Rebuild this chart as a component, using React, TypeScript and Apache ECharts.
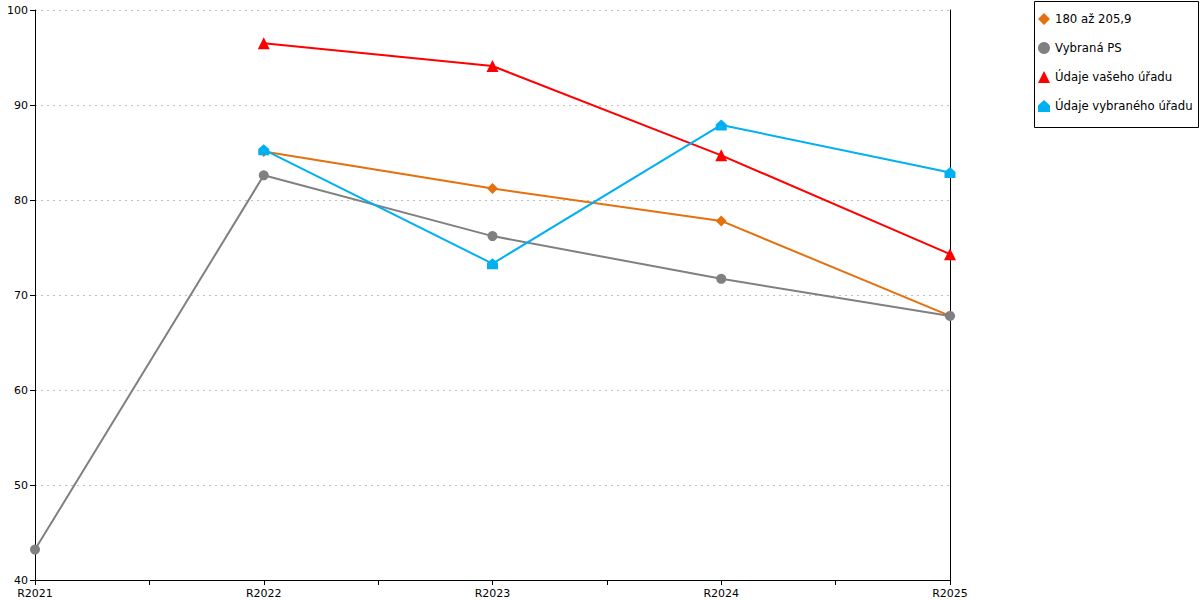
import React, { useEffect, useRef } from "react";
import * as echarts from "echarts";

const categories = ["R2021", "R2022", "R2023", "R2024", "R2025"];
const seriesNames = ["180 až 205,9", "Vybraná PS", "Údaje vašeho úřadu", "Údaje vybraného úřadu"];
const orangeValues: (number | null)[] = [null, 85.1, 81.2, 77.8, 67.8];
const grayValues: (number | null)[] = [43.2, 82.6, 76.2, 71.7, 67.8];
const redValues: (number | null)[] = [null, 96.5, 94.1, 84.7, 74.3];
const cyanValues: (number | null)[] = [null, 85.3, 73.3, 87.9, 82.9];
const yTicks = { min: 40, max: 100, interval: 10 };

const HOUSE = "path://M0,4.5 L5,0 L10,4.5 L10,10 L0,10 Z";

const toPairs = (vals: (number | null)[]) =>
  vals.map((v, i) => (v === null ? null : [i, v])).filter((p) => p !== null);

export default function App() {
  const ref = useRef<HTMLDivElement>(null);
  useEffect(() => {
    if (!ref.current) return;
    const chart = echarts.init(ref.current, undefined, { renderer: "svg" });
    const font = "DejaVu Sans";
    const mk = (name: string, vals: (number | null)[], color: string, symbol: string, size: number) => ({
      name,
      type: "line",
      data: toPairs(vals),
      symbol,
      symbolSize: size,
      lineStyle: { color, width: 2 },
      itemStyle: { color },
      z: 3,
    });
    chart.setOption({
      animation: false,
      textStyle: { fontFamily: font },
      grid: { left: 35, right: 250, top: 10, bottom: 20, containLabel: false },
      xAxis: {
        type: "value",
        min: 0,
        max: 4,
        interval: 0.5,
        axisLine: { show: true, lineStyle: { color: "#000", width: 1 } },
        axisTick: { show: true, length: 5, lineStyle: { color: "#000" } },
        splitLine: { show: false },
        axisLabel: {
          color: "#000",
          fontSize: 11,
          fontFamily: font,
          margin: 8,
          formatter: (v: number) => (Number.isInteger(v) ? categories[v] : ""),
        },
      },
      yAxis: [
        {
          type: "value",
          min: yTicks.min,
          max: yTicks.max,
          interval: yTicks.interval,
          axisLine: { show: true, lineStyle: { color: "#000", width: 1 } },
          axisTick: { show: true, length: 5, lineStyle: { color: "#000" } },
          splitLine: { show: true, lineStyle: { color: "#c0c0c0", type: [2, 4], width: 1 } },
          axisLabel: { color: "#000", fontSize: 11, fontFamily: font, margin: 7 },
        },
        {
          type: "value",
          position: "right",
          min: yTicks.min,
          max: yTicks.max,
          interval: yTicks.interval,
          axisLine: { show: true, lineStyle: { color: "#000", width: 1 } },
          axisTick: { show: false },
          axisLabel: { show: false },
          splitLine: { show: false },
        },
      ],
      legend: {
        orient: "vertical",
        left: 1038,
        top: 13,
        padding: 0,
        itemWidth: 12,
        itemHeight: 12,
        itemGap: 17,
        textStyle: { color: "#000", fontSize: 11.7, fontFamily: font },
        data: [
          { name: seriesNames[0], icon: "diamond" },
          { name: seriesNames[1], icon: "circle" },
          { name: seriesNames[2], icon: "triangle" },
          { name: seriesNames[3], icon: HOUSE },
        ],
      },
      graphic: [
        {
          type: "rect",
          shape: { x: 1034.5, y: 1.5, width: 164, height: 126 },
          style: { fill: "none", stroke: "#000", lineWidth: 1 },
          z: -1,
        },
      ],
      series: [
        mk(seriesNames[0], orangeValues, "#e5700e", "diamond", 11),
        mk(seriesNames[1], grayValues, "#808080", "circle", 10),
        mk(seriesNames[2], redValues, "#ff0000", "triangle", 12),
        mk(seriesNames[3], cyanValues, "#00b0f0", HOUSE, 11),
      ],
    });
    return () => chart.dispose();
  }, []);
  return <div ref={ref} style={{ width: 1200, height: 600, position: "absolute", left: 0, top: 0 }} />;
}
